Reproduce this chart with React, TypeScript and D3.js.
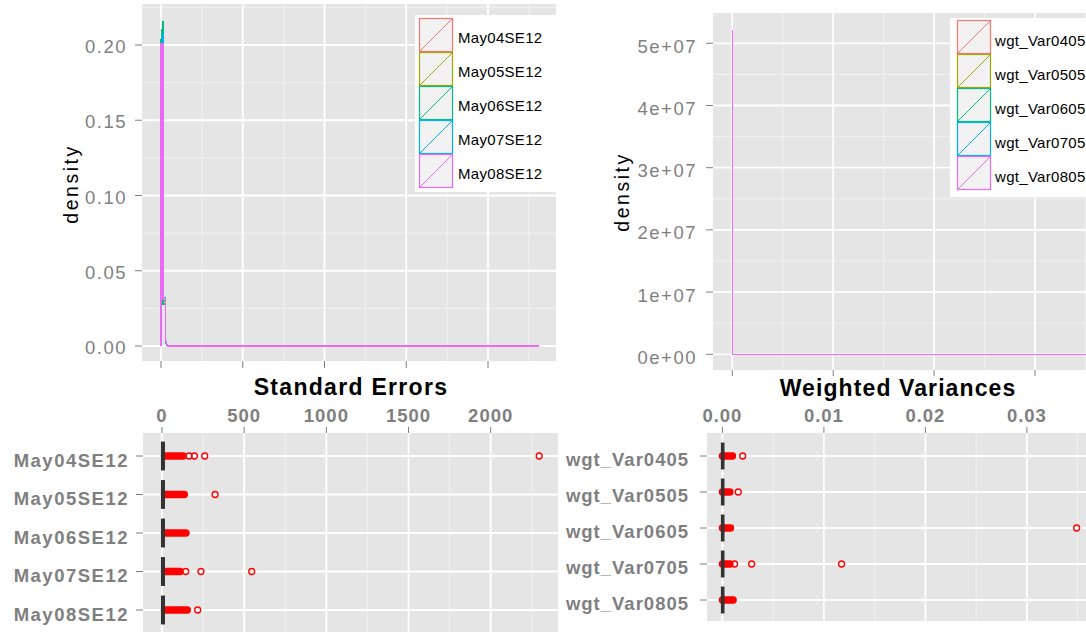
import React from "react";
import * as d3 from "d3";

// ---------- data ----------
const seNames = ["May04SE12", "May05SE12", "May06SE12", "May07SE12", "May08SE12"];
const varNames = ["wgt_Var0405", "wgt_Var0505", "wgt_Var0605", "wgt_Var0705", "wgt_Var0805"];
const seriesColors = ["#F8766D", "#A3A500", "#00BF7D", "#00B0F6", "#E76BF3"];

// density curves of Standard Errors (shared x grid, one y array per series)
const seDensityX = [0, 0.5, 12, 13, 26, 27, 40, 2312];
const seDensityY = [
  [0, 0.198, 0.199, 0.031, 0.031, 0.003, 0, 0],
  [0, 0.2, 0.201, 0.03, 0.03, 0.002, 0, 0],
  [0, 0.203, 0.216, 0.028, 0.028, 0.002, 0, 0],
  [0, 0.189, 0.208, 0.032, 0.032, 0.004, 0, 0],
  [0, 0.201, 0.201, 0.031, 0.031, 0.003, 0, 0],
];

// density curves of Weighted Variances
const varDensityX = [0, 0.000001, 0.00003, 0.0352];
const varDensityY = [
  [0, 4.1e7, 0, 0],
  [0, 4.6e7, 0, 0],
  [0, 4.9e7, 0, 0],
  [0, 4.4e7, 0, 0],
  [0, 5.22e7, 0, 0],
];

// boxplots (collapsed boxes, dense outlier runs, isolated outliers)
const seMedian = [6, 6, 6, 6, 6];
const seDenseMin = [15, 15, 15, 15, 15];
const seDenseMax = [128, 136, 146, 110, 154];
const seOutliers = [[165, 197, 260, 2295], [323], [], [144, 237, 546], [217]];

const varMedian = [0.00003, 0.00003, 0.00003, 0.00003, 0.00003];
const varDenseMin = [0, 0, 0, 0, 0];
const varDenseMax = [0.001, 0.00074, 0.0008, 0.00074, 0.00106];
const varOutliers = [[0.002], [0.00156], [0.0349], [0.0012, 0.00288, 0.01174], []];

// ticks
const seTicks = [0, 500, 1000, 1500, 2000];
const seTickLabels = ["0", "500", "1000", "1500", "2000"];
const seMinor = [250, 750, 1250, 1750, 2250];
const seDensTicks = [0, 0.05, 0.1, 0.15, 0.2];
const seDensTickLabels = ["0.00", "0.05", "0.10", "0.15", "0.20"];
const seDensMinor = [0.025, 0.075, 0.125, 0.175, 0.225];
const varTicks = [0, 0.01, 0.02, 0.03];
const varTickLabels = ["0.00", "0.01", "0.02", "0.03"];
const varMinor = [0.005, 0.015, 0.025, 0.035];
const varDensTicks = [0, 1e7, 2e7, 3e7, 4e7, 5e7];
const varDensTickLabels = ["0e+00", "1e+07", "2e+07", "3e+07", "4e+07", "5e+07"];
const varDensMinor = [0.5e7, 1.5e7, 2.5e7, 3.5e7, 4.5e7, 5.5e7];

// ---------- styling ----------
const FONT = "'Liberation Sans', Arial, sans-serif";
const GREY = "#7f7f7f";
const PANEL = "#e5e5e5";
const MINOR = "#f2f2f2";

type Box = { x0: number; x1: number; y0: number; y1: number };

const TL: Box = { x0: 142, x1: 556, y0: 4, y1: 361 };
const TR: Box = { x0: 713, x1: 1105, y0: 13, y1: 370 };
const BL: Box = { x0: 143, x1: 558, y0: 433, y1: 633 };
const BR: Box = { x0: 707, x1: 1095, y0: 433, y1: 621 };

const tlx = d3.scaleLinear().domain([0, 2000]).range([161, 488]);
const tly = d3.scaleLinear().domain([0, 0.2]).range([346, 45]);
const trx = d3.scaleLinear().domain([0, 0.03]).range([732.3, 1035]);
const tryS = d3.scaleLinear().domain([0, 5e7]).range([354.3, 43.3]);
const blx = d3.scaleLinear().domain([0, 2000]).range([162, 490.7]);
const bly = d3.scalePoint<string>().domain(seNames).range([456, 610]);
const brx = d3.scaleLinear().domain([0, 0.03]).range([722.4, 1026.9]);
const bry = d3.scalePoint<string>().domain(varNames).range([456, 600]);

function Grid({ b, xs, ys, xMinor, yMinor, clip }: any) {
  return (
    <g clipPath={`url(#${clip})`}>
      <rect x={b.x0} y={b.y0} width={b.x1 - b.x0} height={b.y1 - b.y0} fill={PANEL} />
      {xMinor.map((v: number, i: number) => (
        <line key={"xm" + i} x1={v} x2={v} y1={b.y0} y2={b.y1} stroke={MINOR} strokeWidth={1} />
      ))}
      {yMinor.map((v: number, i: number) => (
        <line key={"ym" + i} y1={v} y2={v} x1={b.x0} x2={b.x1} stroke={MINOR} strokeWidth={1} />
      ))}
      {xs.map((v: number, i: number) => (
        <line key={"x" + i} x1={v} x2={v} y1={b.y0} y2={b.y1} stroke="#fff" strokeWidth={1.8} />
      ))}
      {ys.map((v: number, i: number) => (
        <line key={"y" + i} y1={v} y2={v} x1={b.x0} x2={b.x1} stroke="#fff" strokeWidth={1.8} />
      ))}
    </g>
  );
}

function Legend({ x, y, w, h, kx, ky, names, tx, dy }: any) {
  const k = 34;
  return (
    <g>
      <rect x={x} y={y} width={w} height={h} fill="#fff" />
      {names.map((n: string, i: number) => {
        const top = ky + i * k;
        const c = seriesColors[i];
        return (
          <g key={n}>
            <rect x={kx + 0.5} y={top + 0.5} width={k - 1} height={k - 1} fill="#f2f2f2" stroke={c} strokeWidth={1.2} />
            <line x1={kx + 1} y1={top + k - 1} x2={kx + k - 1} y2={top + 1} stroke={c} strokeWidth={1} />
            <text x={tx} y={top + k / 2 + dy} fontSize={15} fontFamily={FONT} fill="#000" letterSpacing={0.3}>
              {n}
            </text>
          </g>
        );
      })}
    </g>
  );
}

export default function App() {
  const seLine = (ys: number[]) =>
    d3.line<number>().x((_, i) => tlx(seDensityX[i])).y((d) => tly(d))(ys) || "";
  const varLine = (ys: number[]) =>
    d3.line<number>().x((_, i) => trx(varDensityX[i])).y((d) => tryS(d))(ys) || "";

  return (
    <div style={{ position: "absolute", left: 0, top: 0 }}>
      <svg width={1086} height={632} style={{ display: "block", background: "#fff" }}>
        <defs>
          {[["cTL", TL], ["cTR", TR], ["cBL", BL], ["cBR", BR]].map(([id, b]: any) => (
            <clipPath id={id} key={id}>
              <rect x={b.x0} y={b.y0} width={b.x1 - b.x0} height={b.y1 - b.y0} />
            </clipPath>
          ))}
        </defs>

        {/* ---------- Top-left: density of standard errors ---------- */}
        <Grid
          b={TL}
          clip="cTL"
          xs={seTicks.map((v) => tlx(v))}
          ys={seDensTicks.map((v) => tly(v))}
          xMinor={seMinor.map((v) => tlx(v))}
          yMinor={seDensMinor.map((v) => tly(v))}
        />
        <g clipPath="url(#cTL)">
          {seDensityY.map((ys, i) => (
            <path key={i} d={seLine(ys)} fill="none" stroke={seriesColors[i]} strokeWidth={1.3} shapeRendering="crispEdges" />
          ))}
        </g>
        {seDensTicks.map((v, i) => (
          <g key={i}>
            <line x1={135} x2={142} y1={tly(v)} y2={tly(v)} stroke={GREY} strokeWidth={1} />
            <text x={127} y={tly(v) + 8} textAnchor="end" fontSize={18.5} fill={GREY} fontFamily={FONT} letterSpacing={1.5}>
              {seDensTickLabels[i]}
            </text>
          </g>
        ))}
        {seTicks.map((v, i) => (
          <line key={i} x1={tlx(v)} x2={tlx(v)} y1={361} y2={368} stroke={GREY} strokeWidth={1} />
        ))}
        <text
          transform="translate(78,184) rotate(-90)"
          textAnchor="middle"
          fontSize={19.5}
          fontFamily={FONT}
          fill="#000"
          letterSpacing={2.5}
        >
          density
        </text>
        <text x={351} y={395} textAnchor="middle" fontSize={23} fontWeight="bold" fontFamily={FONT} letterSpacing={1.3}>
          Standard Errors
        </text>
        <Legend x={415} y={15} w={142} h={177} kx={419} ky={18} names={seNames} tx={458} dy={8} />

        {/* ---------- Top-right: density of weighted variances ---------- */}
        <Grid
          b={TR}
          clip="cTR"
          xs={varTicks.map((v) => trx(v))}
          ys={varDensTicks.map((v) => tryS(v))}
          xMinor={varMinor.map((v) => trx(v))}
          yMinor={varDensMinor.map((v) => tryS(v))}
        />
        <g clipPath="url(#cTR)">
          {varDensityY.map((ys, i) => (
            <path key={i} d={varLine(ys)} fill="none" stroke={seriesColors[i]} strokeWidth={1.3} shapeRendering="crispEdges" />
          ))}
        </g>
        {varDensTicks.map((v, i) => (
          <g key={i}>
            <line x1={706} x2={713} y1={tryS(v)} y2={tryS(v)} stroke={GREY} strokeWidth={1} />
            <text x={697} y={tryS(v) + 9.5} textAnchor="end" fontSize={18.5} fill={GREY} fontFamily={FONT} letterSpacing={1.5}>
              {varDensTickLabels[i]}
            </text>
          </g>
        ))}
        {varTicks.map((v, i) => (
          <line key={i} x1={trx(v)} x2={trx(v)} y1={370} y2={376} stroke={GREY} strokeWidth={1} />
        ))}
        <text
          transform="translate(629,192) rotate(-90)"
          textAnchor="middle"
          fontSize={19.5}
          fontFamily={FONT}
          fill="#000"
          letterSpacing={2.5}
        >
          density
        </text>
        <text x={898} y={396} textAnchor="middle" fontSize={23} fontWeight="bold" fontFamily={FONT} letterSpacing={1.1}>
          Weighted Variances
        </text>
        <Legend x={950} y={18} w={140} h={179} kx={957} ky={20} names={varNames} tx={995} dy={9} />

        {/* ---------- Bottom-left: boxplots of standard errors ---------- */}
        <Grid
          b={BL}
          clip="cBL"
          xs={seTicks.map((v) => blx(v))}
          ys={seNames.map((n) => bly(n) as number)}
          xMinor={seMinor.map((v) => blx(v))}
          yMinor={[]}
        />
        <g clipPath="url(#cBL)">
          {seNames.map((n, i) => {
            const cy = bly(n) as number;
            const half = 0.375 * 38.5;
            return (
              <g key={n}>
                <line x1={blx(seDenseMin[i])} x2={blx(seDenseMax[i])} y1={cy} y2={cy} stroke="red" strokeWidth={7.4} strokeLinecap="round" />
                {seOutliers[i].map((v, j) => (
                  <circle key={j} cx={blx(v)} cy={cy} r={3} fill="none" stroke="red" strokeWidth={1.3} />
                ))}
                <rect x={blx(seMedian[i]) - 2} y={cy - half} width={4} height={2 * half} fill="#333" />
              </g>
            );
          })}
        </g>
        {seTicks.map((v, i) => (
          <g key={i}>
            <line x1={blx(v)} x2={blx(v)} y1={427} y2={433} stroke={GREY} strokeWidth={1} />
            <text x={blx(v)} y={421.5} textAnchor="middle" fontSize={18.5} fontWeight="bold" fill={GREY} fontFamily={FONT} letterSpacing={1}>
              {seTickLabels[i]}
            </text>
          </g>
        ))}
        {seNames.map((n) => (
          <g key={n}>
            <line x1={136} x2={143} y1={bly(n) as number} y2={bly(n) as number} stroke={GREY} strokeWidth={1} />
            <text x={129} y={(bly(n) as number) + 10.5} textAnchor="end" fontSize={18.5} fontWeight="bold" fill={GREY} fontFamily={FONT} letterSpacing={1.5}>
              {n}
            </text>
          </g>
        ))}

        {/* ---------- Bottom-right: boxplots of weighted variances ---------- */}
        <Grid
          b={BR}
          clip="cBR"
          xs={varTicks.map((v) => brx(v))}
          ys={varNames.map((n) => bry(n) as number)}
          xMinor={varMinor.map((v) => brx(v))}
          yMinor={[]}
        />
        <g clipPath="url(#cBR)">
          {varNames.map((n, i) => {
            const cy = bry(n) as number;
            const half = 0.375 * 36;
            return (
              <g key={n}>
                <line x1={brx(varDenseMin[i])} x2={brx(varDenseMax[i])} y1={cy} y2={cy} stroke="red" strokeWidth={7.4} strokeLinecap="round" />
                {varOutliers[i].map((v, j) => (
                  <circle key={j} cx={brx(v)} cy={cy} r={3} fill="none" stroke="red" strokeWidth={1.3} />
                ))}
                <rect x={brx(varMedian[i]) - 1.8} y={cy - half} width={3.6} height={2 * half} fill="#333" />
              </g>
            );
          })}
        </g>
        {varTicks.map((v, i) => (
          <g key={i}>
            <line x1={brx(v)} x2={brx(v)} y1={427} y2={433} stroke={GREY} strokeWidth={1} />
            <text x={brx(v)} y={422} textAnchor="middle" fontSize={18.5} fontWeight="bold" fill={GREY} fontFamily={FONT} letterSpacing={1}>
              {varTickLabels[i]}
            </text>
          </g>
        ))}
        {varNames.map((n) => (
          <g key={n}>
            <line x1={700} x2={707} y1={bry(n) as number} y2={bry(n) as number} stroke={GREY} strokeWidth={1} />
            <text x={689} y={(bry(n) as number) + 10} textAnchor="end" fontSize={18.5} fontWeight="bold" fill={GREY} fontFamily={FONT} letterSpacing={1}>
              {n}
            </text>
          </g>
        ))}
      </svg>
    </div>
  );
}
